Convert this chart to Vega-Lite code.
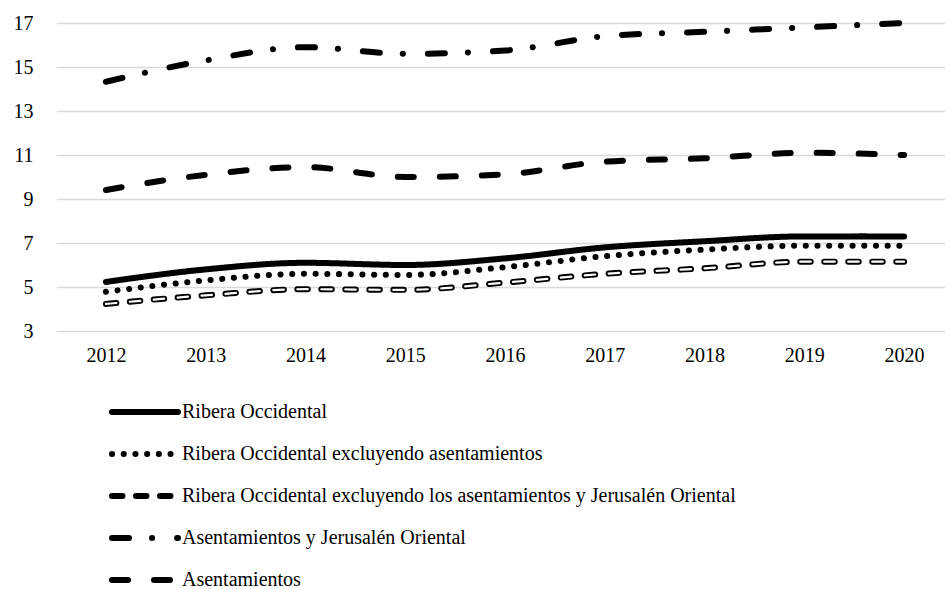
{
  "$schema": "https://vega.github.io/schema/vega-lite/v6.json",
  "width": 889,
  "height": 308,
  "autosize": {"type": "none"},
  "padding": {"left": 56, "top": 23, "right": 0, "bottom": 258},
  "background": "white",
  "config": {
    "view": {"stroke": null},
    "font": "serif",
    "axis": {"labelColor": "black", "labelFontSize": 20}
  },
  "data": {
    "values": [
      {"year": 2012, "serie": "Ribera Occidental", "value": 5.23},
      {"year": 2013, "serie": "Ribera Occidental", "value": 5.8},
      {"year": 2014, "serie": "Ribera Occidental", "value": 6.1},
      {"year": 2015, "serie": "Ribera Occidental", "value": 6.0},
      {"year": 2016, "serie": "Ribera Occidental", "value": 6.3},
      {"year": 2017, "serie": "Ribera Occidental", "value": 6.8},
      {"year": 2018, "serie": "Ribera Occidental", "value": 7.08},
      {"year": 2019, "serie": "Ribera Occidental", "value": 7.3},
      {"year": 2020, "serie": "Ribera Occidental", "value": 7.3},
      {"year": 2012, "serie": "Ribera Occidental excluyendo asentamientos", "value": 4.78},
      {"year": 2013, "serie": "Ribera Occidental excluyendo asentamientos", "value": 5.3},
      {"year": 2014, "serie": "Ribera Occidental excluyendo asentamientos", "value": 5.6},
      {"year": 2015, "serie": "Ribera Occidental excluyendo asentamientos", "value": 5.55},
      {"year": 2016, "serie": "Ribera Occidental excluyendo asentamientos", "value": 5.9},
      {"year": 2017, "serie": "Ribera Occidental excluyendo asentamientos", "value": 6.4},
      {"year": 2018, "serie": "Ribera Occidental excluyendo asentamientos", "value": 6.7},
      {"year": 2019, "serie": "Ribera Occidental excluyendo asentamientos", "value": 6.88},
      {"year": 2020, "serie": "Ribera Occidental excluyendo asentamientos", "value": 6.88},
      {"year": 2012, "serie": "Ribera Occidental excluyendo los asentamientos y Jerusalén Oriental", "value": 4.23},
      {"year": 2013, "serie": "Ribera Occidental excluyendo los asentamientos y Jerusalén Oriental", "value": 4.62},
      {"year": 2014, "serie": "Ribera Occidental excluyendo los asentamientos y Jerusalén Oriental", "value": 4.9},
      {"year": 2015, "serie": "Ribera Occidental excluyendo los asentamientos y Jerusalén Oriental", "value": 4.87},
      {"year": 2016, "serie": "Ribera Occidental excluyendo los asentamientos y Jerusalén Oriental", "value": 5.2},
      {"year": 2017, "serie": "Ribera Occidental excluyendo los asentamientos y Jerusalén Oriental", "value": 5.6},
      {"year": 2018, "serie": "Ribera Occidental excluyendo los asentamientos y Jerusalén Oriental", "value": 5.85},
      {"year": 2019, "serie": "Ribera Occidental excluyendo los asentamientos y Jerusalén Oriental", "value": 6.15},
      {"year": 2020, "serie": "Ribera Occidental excluyendo los asentamientos y Jerusalén Oriental", "value": 6.15},
      {"year": 2012, "serie": "Asentamientos y Jerusalén Oriental", "value": 14.33},
      {"year": 2013, "serie": "Asentamientos y Jerusalén Oriental", "value": 15.3},
      {"year": 2014, "serie": "Asentamientos y Jerusalén Oriental", "value": 15.9},
      {"year": 2015, "serie": "Asentamientos y Jerusalén Oriental", "value": 15.6},
      {"year": 2016, "serie": "Asentamientos y Jerusalén Oriental", "value": 15.75},
      {"year": 2017, "serie": "Asentamientos y Jerusalén Oriental", "value": 16.4},
      {"year": 2018, "serie": "Asentamientos y Jerusalén Oriental", "value": 16.6},
      {"year": 2019, "serie": "Asentamientos y Jerusalén Oriental", "value": 16.8},
      {"year": 2020, "serie": "Asentamientos y Jerusalén Oriental", "value": 17.0},
      {"year": 2012, "serie": "Asentamientos", "value": 9.41},
      {"year": 2013, "serie": "Asentamientos", "value": 10.1},
      {"year": 2014, "serie": "Asentamientos", "value": 10.45},
      {"year": 2015, "serie": "Asentamientos", "value": 10.0},
      {"year": 2016, "serie": "Asentamientos", "value": 10.12},
      {"year": 2017, "serie": "Asentamientos", "value": 10.7},
      {"year": 2018, "serie": "Asentamientos", "value": 10.85},
      {"year": 2019, "serie": "Asentamientos", "value": 11.1},
      {"year": 2020, "serie": "Asentamientos", "value": 11.0}
    ]
  },
  "encoding": {
    "x": {
      "field": "year",
      "type": "quantitative",
      "scale": {"domain": [2011.5, 2020.41], "nice": false, "zero": false},
      "axis": {
        "values": [2012, 2013, 2014, 2015, 2016, 2017, 2018, 2019, 2020],
        "format": "d",
        "title": null,
        "grid": false,
        "domain": false,
        "ticks": false,
        "labelFont": "Liberation Serif",
        "labelPadding": 14
      }
    },
    "y": {
      "field": "value",
      "type": "quantitative",
      "scale": {"domain": [3, 17], "nice": false, "zero": false},
      "axis": {
        "values": [3, 5, 7, 9, 11, 13, 15, 17],
        "title": null,
        "domain": false,
        "ticks": false,
        "gridColor": "#d9d9d9",
        "gridWidth": 1.3,
        "labelFont": "Liberation Serif",
        "labelPadding": 23
      }
    }
  },
  "layer": [
    {
      "mark": {"type": "line", "interpolate": "monotone", "color": "black", "strokeWidth": 6, "strokeCap": "round"},
      "encoding": {
        "strokeDash": {
          "field": "serie",
          "type": "nominal",
          "scale": {
            "domain": [
              "Ribera Occidental",
              "Ribera Occidental excluyendo asentamientos",
              "Ribera Occidental excluyendo los asentamientos y Jerusalén Oriental",
              "Asentamientos y Jerusalén Oriental",
              "Asentamientos"
            ],
            "range": [[1, 0], [0.1, 11.6], [10.5, 13.5], [17, 23, 0.1, 25], [16, 26]]
          },
          "legend": {
            "orient": "none",
            "legendX": 75,
            "legendY": 375,
            "direction": "vertical",
            "title": null,
            "padding": 0,
            "symbolType": "M-3,0H3",
            "symbolSize": 484,
            "symbolStrokeWidth": 6,
            "symbolStrokeColor": "black",
            "labelFontSize": 20,
            "labelFont": "Liberation Serif",
            "labelColor": "black",
            "labelOffset": 23,
            "labelLimit": 0,
            "rowPadding": 16,
            "encode": {
              "symbols": {
                "update": {
                  "strokeCap": {"value": "round"}
                }
              }
            }
          }
        }
      }
    },
    {
      "transform": [{"filter": "datum.serie === 'Ribera Occidental excluyendo los asentamientos y Jerusalén Oriental'"}],
      "mark": {"type": "line", "interpolate": "monotone", "color": "white", "strokeWidth": 2.2, "strokeCap": "round", "strokeDash": [10.5, 13.5]},
      "encoding": {}
    }
  ]
}
